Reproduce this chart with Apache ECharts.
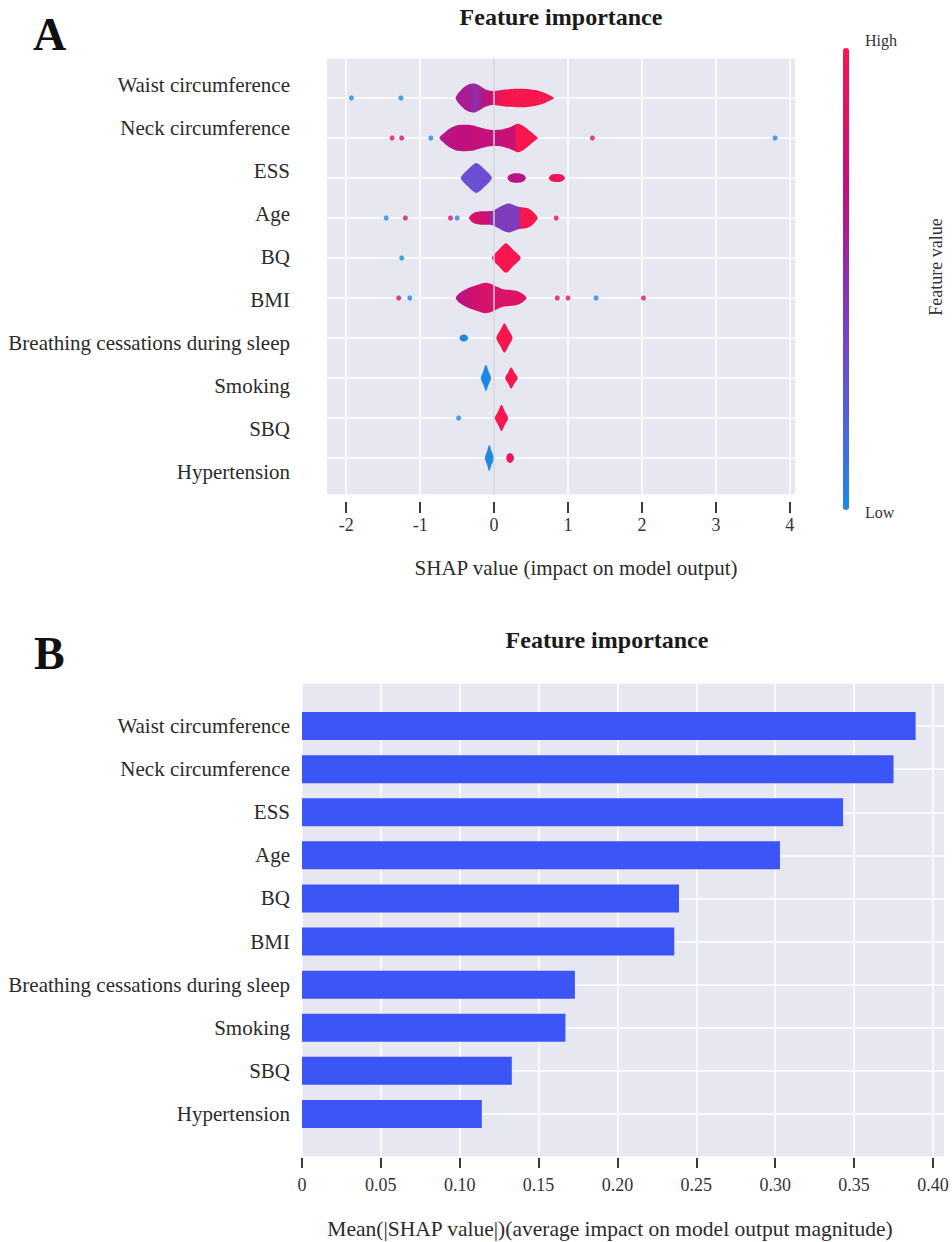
<!DOCTYPE html>
<html><head><meta charset="utf-8">
<script src="https://cdn.jsdelivr.net/npm/echarts@6/dist/echarts.min.js"></script>
<style>html,body{margin:0;padding:0;background:#fff}#c{width:952px;height:1242px}</style>
</head><body><div id="c"></div>
<script>
// ---------- DATA ----------
const features = ['Waist circumference','Neck circumference','ESS','Age','BQ','BMI',
  'Breathing cessations during sleep','Smoking','SBQ','Hypertension'];
const meanAbsShap = [0.389,0.375,0.343,0.303,0.239,0.236,0.173,0.167,0.133,0.114];
const shapTicks = [-2,-1,0,1,2,3,4];
const meanTicks = [0,0.05,0.10,0.15,0.20,0.25,0.30,0.35,0.40];

// outlier points: [SHAP value, feature value level 0..1]
const dotsWaist = [[-1.93,0],[-1.26,0]];
const dotsNeck = [[-1.38,0.9],[-1.25,0.78],[-0.855,0],[1.33,0.9],[3.80,0]];
const dotsESS = [];
const dotsAge = [[-1.46,0],[-1.20,0.85],[-0.59,0.85],[-0.50,0.05],[0.84,0.85]];
const dotsBQ = [[-1.25,0]];
const dotsBMI = [[-1.29,0.8],[-1.14,0],[0.855,0.85],[1.00,0.85],[1.38,0],[2.02,0.9]];
const dotsBreathing = [];
const dotsSmoking = [];
const dotsSBQ = [[-0.48,0]];
const dotsHypertension = [];

// violin outlines: [SHAP value, density half-width (rows), mean feature value level]
const violinWaist = [[-0.52,0,0.62],[-0.47,0.15,0.62],[-0.40,0.28,0.62],[-0.33,0.35,0.6],[-0.26,0.36,0.5],
  [-0.19,0.30,0.6],[-0.12,0.22,0.68],[-0.05,0.18,0.76],[0.02,0.18,0.86],[0.10,0.20,0.96],[0.20,0.22,1],
  [0.30,0.23,1],[0.40,0.23,1],[0.50,0.21,1],[0.60,0.18,1],[0.68,0.13,1],[0.75,0.07,1],[0.81,0,1]];
const violinNeck = [[-0.74,0,0.64],[-0.68,0.12,0.66],[-0.60,0.24,0.68],[-0.50,0.32,0.7],[-0.40,0.33,0.7],
  [-0.30,0.32,0.72],[-0.20,0.27,0.72],[-0.10,0.22,0.72],[0.0,0.20,0.72],[0.10,0.21,0.73],[0.20,0.26,0.74],
  [0.27,0.32,0.75],[0.31,0.355,1],[0.36,0.34,1],[0.42,0.27,1],[0.48,0.18,1],[0.54,0.09,1],[0.59,0,1]];
const violinESSLow = [[-0.45,0,0.3],[-0.35,0.22,0.3],[-0.24,0.375,0.3],[-0.13,0.22,0.3],[-0.03,0,0.3]];
const violinESSMid = [[0.18,0,0.68],[0.21,0.08,0.68],[0.26,0.115,0.68],[0.305,0.12,0.68],[0.35,0.115,0.68],[0.40,0.08,0.68],[0.43,0,0.68]];
const violinESSHigh = [[0.74,0,0.95],[0.77,0.075,0.95],[0.82,0.10,0.95],[0.87,0.10,0.95],[0.92,0.08,0.95],[0.96,0,0.95]];
const violinAge = [[-0.34,0,0.85],[-0.30,0.10,0.85],[-0.24,0.15,0.82],[-0.16,0.17,0.78],[-0.08,0.17,0.74],
  [-0.02,0.18,0.5],[0.04,0.24,0.42],[0.10,0.30,0.42],[0.16,0.35,0.42],[0.21,0.36,0.42],[0.27,0.32,0.42],
  [0.33,0.28,0.45],[0.37,0.27,1],[0.44,0.25,1],[0.50,0.2,1],[0.55,0.11,1],[0.59,0,1]];
const violinBQ = [[-0.03,0,1],[0.06,0.2,1],[0.16,0.37,1],[0.26,0.2,1],[0.36,0,1]];
const violinBMI = [[-0.52,0,0.66],[-0.47,0.12,0.68],[-0.40,0.20,0.72],[-0.32,0.27,0.76],[-0.22,0.33,0.8],
  [-0.12,0.38,0.82],[-0.04,0.35,0.83],[0.04,0.28,0.84],[0.12,0.22,0.85],[0.22,0.20,0.86],[0.32,0.17,0.86],
  [0.39,0.10,0.86],[0.44,0,0.86]];
const violinBreathingLow = [[-0.47,0,0],[-0.45,0.06,0],[-0.41,0.085,0],[-0.37,0.06,0],[-0.35,0,0]];
const violinBreathingHigh = [[0.03,0,1],[0.085,0.2,1],[0.14,0.37,1],[0.195,0.2,1],[0.25,0,1]];
const violinSmokingLow = [[-0.18,0,0],[-0.145,0.17,0],[-0.11,0.33,0],[-0.075,0.17,0],[-0.04,0,0]];
const violinSmokingHigh = [[0.15,0,1],[0.19,0.14,1],[0.23,0.27,1],[0.275,0.14,1],[0.32,0,1]];
const violinSBQ = [[0.01,0,1],[0.055,0.17,1],[0.10,0.33,1],[0.145,0.17,1],[0.19,0,1]];
const violinHypertensionLow = [[-0.125,0,0],[-0.095,0.17,0],[-0.065,0.33,0],[-0.035,0.17,0],[0.0,0,0]];
const violinHypertensionHigh = [[0.165,0,0.95],[0.18,0.09,0.95],[0.215,0.125,0.95],[0.25,0.09,0.95],[0.27,0,0.95]];

// ---------- BUILD ----------
const SERIF = "'Liberation Serif','Times New Roman',serif";
const PLOT_BG = '#e6e7f0';
const PALETTE = [[0,'#1e88e5'],[0.3,'#6a50d0'],[0.5,'#8c2fb0'],[0.7,'#c0107e'],[1,'#f8164f']];
function hex2rgb(h){return [1,3,5].map(i=>parseInt(h.substr(i,2),16));}
function colorFor(v){
  v=Math.max(0,Math.min(1,v));
  for(let i=1;i<PALETTE.length;i++){
    if(v<=PALETTE[i][0]){
      const a=PALETTE[i-1],b=PALETTE[i],t=(v-a[0])/(b[0]-a[0]);
      const ca=hex2rgb(a[1]),cb=hex2rgb(b[1]);
      return 'rgb('+ca.map((c,k)=>Math.round(c+(cb[k]-c)*t)).join(',')+')';
    }
  }
  return PALETTE[PALETTE.length-1][1];
}

const outlierDots = [dotsWaist,dotsNeck,dotsESS,dotsAge,dotsBQ,dotsBMI,dotsBreathing,dotsSmoking,dotsSBQ,dotsHypertension];
const violins = [
  [0,violinWaist],[1,violinNeck],[2,violinESSLow],[2,violinESSMid],[2,violinESSHigh],[3,violinAge],
  [4,violinBQ],[5,violinBMI],[6,violinBreathingLow],[6,violinBreathingHigh],[7,violinSmokingLow],
  [7,violinSmokingHigh],[8,violinSBQ],[9,violinHypertensionLow],[9,violinHypertensionHigh]
];
const dotData = [];
outlierDots.forEach((arr,row)=>arr.forEach(d=>dotData.push([d[0],row,d[1]])));

function renderViolin(params, api){
  const v = violins[params.dataIndex];
  const row = v[0], pts = v[1];
  const top = pts.map(p=>api.coord([p[0], row - p[1]]));
  const bottom = pts.slice(1,-1).reverse().map(p=>api.coord([p[0], row + p[1]]));
  const xmin = pts[0][0], xmax = pts[pts.length-1][0];
  const stops = pts.map(p=>({offset:(p[0]-xmin)/(xmax-xmin), color:colorFor(p[2])}));
  return {
    type:'polygon',
    shape:{points: top.concat(bottom), smooth:0.25},
    style:{fill: new echarts.graphic.LinearGradient(0,0,1,0,stops)}
  };
}

const cbStops = PALETTE.map(p=>({offset:1-p[0], color:p[1]})).reverse();

const chart = echarts.init(document.getElementById('c'), null, {renderer:'svg', width:952, height:1242});
const lbl = {fontFamily:SERIF, color:'#333', fontSize:18};
chart.setOption({
  animation:false,
  backgroundColor:'#fff',
  grid:[
    {left:327, top:58, width:468, height:437, show:true, backgroundColor:PLOT_BG, borderWidth:0},
    {left:300, top:63.5, width:1, height:430, show:false},
    {left:302, top:683, width:642, height:474, show:true, backgroundColor:PLOT_BG, borderWidth:0}
  ],
  xAxis:[
    {gridIndex:0, type:'value', min:-2.26, max:4.07, offset:7, position:'bottom',
      axisLine:{show:false, onZero:false},
      axisTick:{show:true, customValues:shapTicks, length:11, lineStyle:{color:'#3a3a3a', width:2}},
      axisLabel:Object.assign({customValues:shapTicks, margin:14}, lbl),
      splitLine:{show:true, lineStyle:{color:'#ffffff', width:1.5}}},
    {gridIndex:1, type:'value', show:false},
    {gridIndex:2, type:'value', min:0, max:0.407, offset:1, position:'bottom',
      axisLine:{show:false, onZero:false},
      axisTick:{show:true, customValues:meanTicks, length:10, lineStyle:{color:'#3a3a3a', width:2}},
      axisLabel:Object.assign({customValues:meanTicks, margin:18,
        formatter:v=> v===0 ? '0' : v.toFixed(2)}, lbl),
      splitLine:{show:true, lineStyle:{color:'#ffffff', width:1.5}}}
  ],
  yAxis:[
    {gridIndex:0, type:'value', inverse:true, min:-1, max:9.925, interval:1,
      axisLine:{show:false, onZero:false}, axisTick:{show:false}, axisLabel:{show:false},
      splitLine:{show:true, lineStyle:{color:'#ffffff', width:1.5}}},
    {gridIndex:1, type:'category', inverse:true, data:features,
      axisLine:{show:false}, axisTick:{show:false}, splitLine:{show:false},
      axisLabel:{interval:0, margin:10, fontSize:21, fontFamily:SERIF, color:'#2b2b2b'}},
    {gridIndex:2, type:'category', inverse:true, boundaryGap:false, data:[''].concat(features,['']),
      axisLine:{show:false, onZero:false}, axisTick:{show:false},
      splitLine:{show:true, interval:0, lineStyle:{color:'#ffffff', width:1.5}},
      axisLabel:{interval:0, margin:12, fontSize:21, fontFamily:SERIF, color:'#2b2b2b'}}
  ],
  series:[
    {type:'scatter', xAxisIndex:0, yAxisIndex:0, data:dotData, symbolSize:5, z:2,
      itemStyle:{color:p=>colorFor(p.data[2])},
      markLine:{silent:true, symbol:'none', label:{show:false},
        lineStyle:{color:'#cfd0d9', width:1.5, type:'solid'}, data:[{xAxis:0}]}},
    {type:'custom', xAxisIndex:0, yAxisIndex:0, z:3,
      data:violins.map((v,i)=>[v[1][0][0], v[0], i]), renderItem:renderViolin},
    {type:'bar', xAxisIndex:2, yAxisIndex:2, barWidth:28,
      data:['-'].concat(meanAbsShap,['-']), itemStyle:{color:'#3c55f6'}}
  ],
  graphic:[
    {type:'text', x:33, y:34, style:{text:'A', fontSize:46, fontWeight:'bold', fontFamily:SERIF, fill:'#111', verticalAlign:'middle'}},
    {type:'text', x:34, y:653, style:{text:'B', fontSize:46, fontWeight:'bold', fontFamily:SERIF, fill:'#111', verticalAlign:'middle'}},
    {type:'text', x:561, y:17, style:{text:'Feature importance', fontSize:24, fontWeight:'bold', fontFamily:SERIF, fill:'#1a1a1a', align:'center', verticalAlign:'middle'}},
    {type:'text', x:607, y:640, style:{text:'Feature importance', fontSize:24, fontWeight:'bold', fontFamily:SERIF, fill:'#1a1a1a', align:'center', verticalAlign:'middle'}},
    {type:'text', x:576, y:568, style:{text:'SHAP value (impact on model output)', fontSize:21, fontFamily:SERIF, fill:'#2b2b2b', align:'center', verticalAlign:'middle'}},
    {type:'text', x:610, y:1229, style:{text:'Mean(|SHAP value|)(average impact on model output magnitude)', fontSize:21.5, fontFamily:SERIF, fill:'#2b2b2b', align:'center', verticalAlign:'middle'}},
    {type:'rect', shape:{x:843, y:48, width:6, height:462, r:3},
      style:{fill:new echarts.graphic.LinearGradient(0,0,0,1,cbStops)}},
    {type:'text', x:865, y:40, style:{text:'High', fontSize:16, fontFamily:SERIF, fill:'#333', align:'left', verticalAlign:'middle'}},
    {type:'text', x:865, y:512, style:{text:'Low', fontSize:16, fontFamily:SERIF, fill:'#333', align:'left', verticalAlign:'middle'}},
    {type:'text', x:936, y:267, rotation:Math.PI/2, style:{text:'Feature value', fontSize:18, fontFamily:SERIF, fill:'#333', align:'center', verticalAlign:'middle'}}
  ]
});
</script></body></html>
